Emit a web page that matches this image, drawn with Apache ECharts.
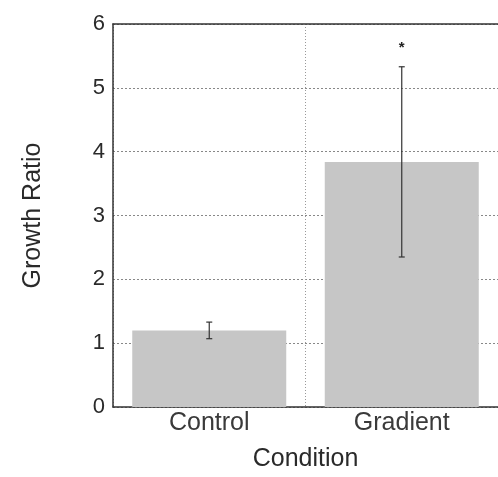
<!DOCTYPE html>
<html><head><meta charset="utf-8">
<script src="https://cdn.jsdelivr.net/npm/echarts@6/dist/echarts.min.js"></script>
<style>html,body{margin:0;padding:0;background:#fff;overflow:hidden}#c{width:498px;height:477px}</style>
</head><body><div id="c"></div>
<script>
const categories = ["Control", "Gradient"];
const means = [1.2, 3.84];
const errLow = [1.07, 2.35];
const errHigh = [1.33, 5.33];
const sigMarks = ["", "*"];
const sigY = [0, 5.62];
const yTicks = [0, 1, 2, 3, 4, 5, 6];

const chart = echarts.init(document.getElementById('c'));
const font = '"Liberation Sans", Arial, sans-serif';
chart.setOption({
  animation: false,
  grid: { left: 113, width: 390, top: 24, bottom: 69, show: false },
  xAxis: [{
    type: 'category', data: categories,
    name: 'Condition', nameLocation: 'middle', nameGap: 40,
    nameTextStyle: { fontSize: 25, color: '#2a2a2a', fontFamily: font },
    axisLine: { lineStyle: { color: '#333', width: 1.5 } },
    axisTick: { show: false },
    axisLabel: { fontSize: 25, color: '#3a3a3a', fontFamily: font, margin: 4 },
    splitLine: { show: true, lineStyle: { color: '#999', type: [1, 2], width: 1 } }
  }, {
    type: 'category', data: categories, position: 'top',
    axisLine: { show: true, lineStyle: { color: '#333', width: 1.5 } },
    axisTick: { show: false }, axisLabel: { show: false }, splitLine: { show: false }
  }],
  yAxis: {
    type: 'value', min: yTicks[0], max: yTicks[yTicks.length - 1], interval: 1,
    name: 'Growth Ratio', nameLocation: 'middle', nameGap: 67,
    nameTextStyle: { fontSize: 25, color: '#2a2a2a', fontFamily: font },
    axisLine: { show: true, lineStyle: { color: '#333', width: 1.5 } },
    axisTick: { show: false },
    axisLabel: { fontSize: 22, color: '#2a2a2a', fontFamily: font, margin: 8 },
    splitLine: { show: true, lineStyle: { color: '#888', type: [2, 2], width: 1 } }
  },
  series: [
    {
      type: 'bar', data: means, barWidth: '80%',
      itemStyle: { color: '#c6c6c6' }, z: 2
    },
    {
      type: 'custom', z: 5,
      data: categories.map((c, i) => [i, errLow[i], errHigh[i]]),
      renderItem: function (params, api) {
        const x = api.value(0);
        const lo = api.coord([x, api.value(1)]);
        const hi = api.coord([x, api.value(2)]);
        const w = 3;
        const st = { stroke: '#333', lineWidth: 1.2 };
        return { type: 'group', children: [
          { type: 'line', shape: { x1: lo[0], y1: lo[1], x2: hi[0], y2: hi[1] }, style: st },
          { type: 'line', shape: { x1: lo[0] - w, y1: lo[1], x2: lo[0] + w, y2: lo[1] }, style: st },
          { type: 'line', shape: { x1: hi[0] - w, y1: hi[1], x2: hi[0] + w, y2: hi[1] }, style: st }
        ]};
      }
    },
    {
      type: 'custom', z: 5,
      data: categories.map((c, i) => [i, sigY[i], sigMarks[i]]),
      renderItem: function (params, api) {
        const i = params.dataIndex;
        if (!sigMarks[i]) return null;
        const p = api.coord([api.value(0), api.value(1)]);
        return { type: 'text', style: { text: sigMarks[i], x: p[0], y: p[1], align: 'center', verticalAlign: 'middle', fontSize: 15, fontWeight: 'bold', fill: '#222', fontFamily: font } };
      }
    }
  ]
});
</script></body></html>
